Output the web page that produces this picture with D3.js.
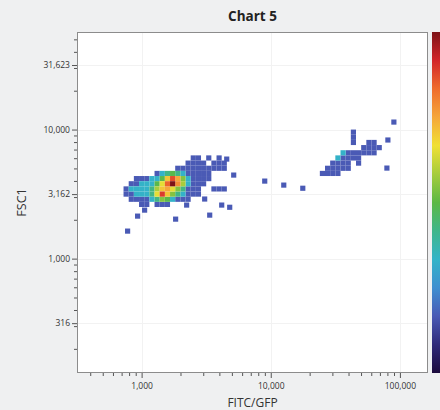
<!DOCTYPE html>
<html>
<head>
<meta charset="utf-8">
<script src="https://cdn.jsdelivr.net/npm/d3@7"></script>
<style>
  body { margin: 0; background: #eff0f1; }
  svg { display: block; }
</style>
</head>
<body>
<svg id="chart" width="440" height="410"></svg>
<script>
// ---- data -------------------------------------------------------------
const chartTitle = "Chart 5";
const xLabel = "FITC/GFP";
const yLabel = "FSC1";

const xDomain = [316, 165000];
const yDomain = [130, 57000];

const xTickValues = [1000, 10000, 100000];
const xTickLabels = ["1,000", "10,000", "100,000"];
const yTickValues = [316.228, 1000, 3162.28, 10000, 31622.8];
const yTickLabels = ["316", "1,000", "3,162", "10,000", "31,623"];

// histogram bins are BIN decades wide on both axes
const BIN = 0.04;

// dense rows: FSC1 of the row, FITC of the first bin, event counts in consecutive bins
const rowFSC = [6025.6, 5495.4, 5011.9, 4570.9, 4168.7, 3801.9, 3467.4, 3162.3, 2884.0, 2630.3,
                7943.3, 7244.4, 6606.9, 6025.6, 5495.4, 5011.9, 4570.9];
const rowFITCStart = [2511.89, 2290.87, 1905.46, 1318.26, 912.01, 831.76, 758.58, 758.58, 831.76, 1000,
                      57544.0, 52480.7, 36307.8, 33113.1, 30199.5, 27542.3, 25118.9];
const rowCounts = [
  [1, 1, 0, 1, 0, 1],
  [1, 1, 1, 1, 0, 1, 1, 1],
  [1, 1, 1, 1, 1, 1, 1, 1, 1, 1],
  [1, 2, 3, 4, 3, 2, 1, 1, 1, 1, 1],
  [1, 1, 1, 2, 2, 4, 10, 20, 12, 5, 2, 1, 1, 1, 1],
  [1, 1, 2, 2, 2, 4, 8, 18, 35, 14, 6, 2, 1, 1, 1],
  [1, 2, 2, 2, 2, 3, 6, 10, 12, 8, 5, 3, 1, 1, 1, 0, 0, 1, 1, 1],
  [1, 1, 2, 2, 2, 3, 8, 22, 10, 5, 3, 2, 1, 1, 1],
  [1, 1, 1, 1, 2, 3, 5, 4, 2, 1, 1, 1],
  [1, 1, 0, 1, 1, 1],
  [1, 1],
  [1, 1, 1, 1],
  [2, 1, 1, 1, 1, 1, 1],
  [2, 1, 1, 1, 1],
  [1, 1, 1, 1, 0, 1],
  [1, 1, 1, 1, 1],
  [1, 1, 1, 1]
];

// isolated single events
const singleFITC = [89800, 43650, 43650, 43650, 80700, 79300, 17700, 12610, 8980,
                    4560, 5165, 4170, 4810, 3367, 1834, 931, 779, 1055, 2232, 3078];
const singleFSC  = [11430, 9550, 8710, 7943, 8300, 5030, 3510, 3713, 3988,
                    5905, 4440, 2600, 2500, 2173, 2023, 2135, 1634, 2376, 2600, 2896];

// colour ramp of the density scale, low to high
const rampColors = ["#1c0b3d", "#2f2a7a", "#4a5ab5", "#3f8fd0", "#33b4c8", "#3fb68a",
                    "#5cb845", "#a6cc3c", "#f0e034", "#f5a63a", "#ef6c2c", "#d2262a", "#7d1318"];

// ---- layout -----------------------------------------------------------
const plot = { left: 77, top: 32, right: 428, bottom: 373 };
const bar = { left: 432, right: 446 };
const font = "'Open Sans', sans-serif";

const svg = d3.select("#chart");

const x = d3.scaleLog().domain(xDomain).range([plot.left, plot.right]);
const y = d3.scaleLog().domain(yDomain).range([plot.bottom, plot.top]);

// ---- bins -------------------------------------------------------------
const cells = [];
rowFSC.forEach((fsc, r) => {
  rowCounts[r].forEach((c, i) => {
    if (c > 0) cells.push({ fitc: rowFITCStart[r] * Math.pow(10, BIN * i), fsc, count: c });
  });
});
singleFITC.forEach((f, i) => cells.push({ fitc: f, fsc: singleFSC[i], count: 1 }));

const maxCount = d3.max(cells, d => d.count);
const ramp = d3.scaleLinear()
  .domain(rampColors.map((_, i) => i / (rampColors.length - 1)))
  .range(rampColors)
  .interpolate(d3.interpolateRgb);
const base = 2 / (rampColors.length - 1);
const colorOf = c => ramp(base + (1 - base) * Math.log(c) / Math.log(maxCount));

// ---- frame ------------------------------------------------------------
svg.append("text")
  .attr("x", (plot.left + plot.right) / 2)
  .attr("y", 21)
  .attr("text-anchor", "middle")
  .attr("font-family", font)
  .attr("font-weight", "bold")
  .attr("font-size", 13.5)
  .attr("fill", "#222")
  .text(chartTitle);

svg.append("rect")
  .attr("x", plot.left).attr("y", plot.top)
  .attr("width", plot.right - plot.left).attr("height", plot.bottom - plot.top)
  .attr("fill", "#ffffff");

// faint grid at the labelled ticks
const grid = svg.append("g").attr("stroke", "#f2f2f2").attr("stroke-width", 1);
xTickValues.forEach(v => grid.append("line")
  .attr("x1", Math.round(x(v)) + 0.5).attr("x2", Math.round(x(v)) + 0.5)
  .attr("y1", plot.top).attr("y2", plot.bottom));
yTickValues.forEach(v => grid.append("line")
  .attr("y1", Math.round(y(v)) + 0.5).attr("y2", Math.round(y(v)) + 0.5)
  .attr("x1", plot.left).attr("x2", plot.right));

// density cells
const half = Math.pow(10, BIN / 2);
svg.append("g").selectAll("rect")
  .data(cells.sort((a, b) => a.count - b.count))
  .join("rect")
  .attr("x", d => x(d.fitc / half))
  .attr("width", d => x(d.fitc * half) - x(d.fitc / half))
  .attr("y", d => y(d.fsc * half))
  .attr("height", d => y(d.fsc / half) - y(d.fsc * half))
  .attr("fill", d => colorOf(d.count));

svg.append("rect")
  .attr("x", plot.left + 0.5).attr("y", plot.top + 0.5)
  .attr("width", plot.right - plot.left - 1).attr("height", plot.bottom - plot.top - 1)
  .attr("fill", "none")
  .attr("stroke", "#8c8c8c");

// ---- axes -------------------------------------------------------------
function styleAxis(g) {
  g.select(".domain").remove();
  g.selectAll("line").attr("stroke", "#555");
  g.selectAll("text").attr("font-family", font).attr("font-size", 8.5).attr("fill", "#333");
}

const xMinor = x.ticks().filter(v => !xTickValues.includes(v));
const yMinor = y.ticks().filter(v => !yTickValues.some(t => Math.abs(t - v) < 1));

svg.append("g").attr("transform", `translate(0,${plot.bottom})`)
  .call(d3.axisBottom(x).tickValues(xMinor).tickSize(3).tickFormat(""))
  .call(styleAxis);
svg.append("g").attr("transform", `translate(0,${plot.bottom})`)
  .call(d3.axisBottom(x).tickValues(xTickValues).tickSize(5).tickPadding(5)
    .tickFormat((d, i) => xTickLabels[i]))
  .call(styleAxis);

svg.append("g").attr("transform", `translate(${plot.left},0)`)
  .call(d3.axisLeft(y).tickValues(yMinor).tickSize(3).tickFormat(""))
  .call(styleAxis);
svg.append("g").attr("transform", `translate(${plot.left},0)`)
  .call(d3.axisLeft(y).tickValues(yTickValues).tickSize(5).tickPadding(2)
    .tickFormat((d, i) => yTickLabels[i]))
  .call(styleAxis);

svg.append("text")
  .attr("x", (plot.left + plot.right) / 2)
  .attr("y", 407)
  .attr("text-anchor", "middle")
  .attr("font-family", font)
  .attr("font-size", 12)
  .attr("fill", "#333")
  .text(xLabel);

svg.append("text")
  .attr("transform", `translate(26,${(plot.top + plot.bottom) / 2}) rotate(-90)`)
  .attr("text-anchor", "middle")
  .attr("font-family", font)
  .attr("font-size", 12.5)
  .attr("fill", "#333")
  .text(yLabel);

// ---- colour bar -------------------------------------------------------
const grad = svg.append("defs").append("linearGradient")
  .attr("id", "densityRamp")
  .attr("x1", 0).attr("y1", 1).attr("x2", 0).attr("y2", 0);
rampColors.forEach((c, i) => grad.append("stop")
  .attr("offset", i / (rampColors.length - 1))
  .attr("stop-color", c));

svg.append("rect")
  .attr("x", bar.left).attr("y", plot.top)
  .attr("width", bar.right - bar.left).attr("height", plot.bottom - plot.top)
  .attr("fill", "url(#densityRamp)");
</script>
</body>
</html>
